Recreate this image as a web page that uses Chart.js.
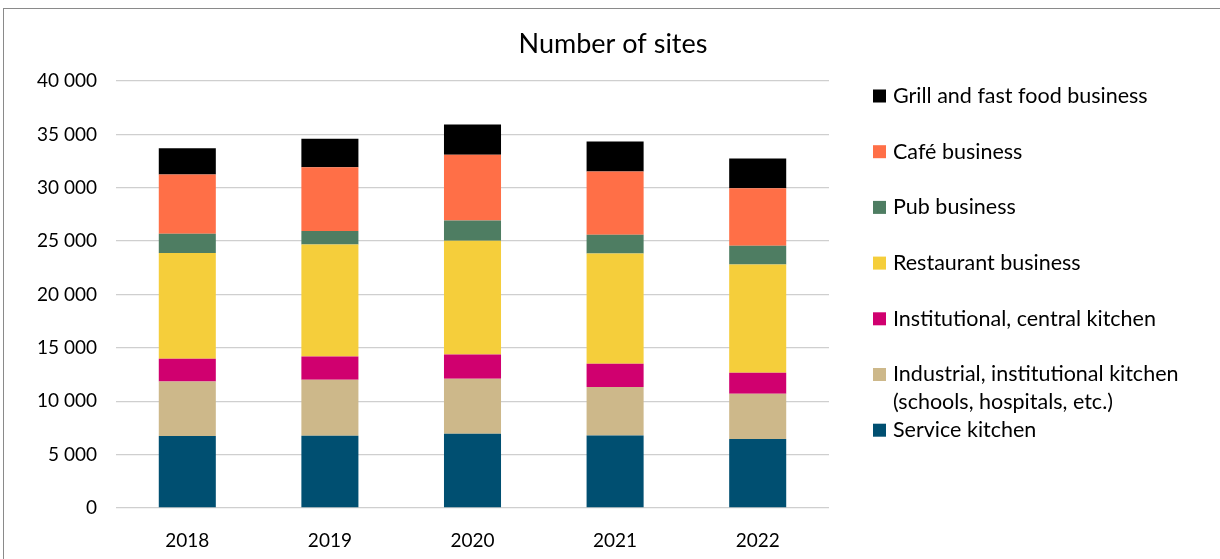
<!DOCTYPE html>
<html>
<head>
<meta charset="utf-8">
<title>Number of sites</title>
<script src="https://cdn.jsdelivr.net/npm/chart.js@4.4.1/dist/chart.umd.min.js"></script>
<style>
  html, body { margin: 0; padding: 0; background: #fff; overflow: hidden; }
  #frame {
    position: absolute; left: 3px; top: 8px;
    width: 1300px; height: 700px;
    border: 1.5px solid #8a8a8a;
  }
  #wrap { position: absolute; left: 0; top: 0; width: 1220px; height: 559px; }
</style>
</head>
<body>
<div id="frame"></div>
<div id="wrap"><canvas id="sitesChart"></canvas></div>
<script>
// Years on the x axis
const years = ['2018', '2019', '2020', '2021', '2022'];

// Number of sites per kitchen type, stacked bottom to top
const serviceKitchen      = [6740, 6770, 6960, 6800, 6460];
const industrialKitchen   = [5110, 5240, 5150, 4530, 4240];
const institutionalCentral = [2130, 2190, 2270, 2180, 1970];
const restaurantBusiness  = [9900, 10480, 10650, 10330, 10140];
const pubBusiness         = [1800, 1280, 1900, 1750, 1750];
const cafeBusiness        = [5560, 5970, 6150, 5930, 5400];
const grillFastFood       = [2470, 2650, 2840, 2810, 2770];

// Y axis range
const yMin = 0;
const yMax = 40000;
const yStep = 5000;

const chartTitle = 'Number of sites';

const FONT = 'Lato, "Open Sans", sans-serif';

// Title centred over the whole canvas plus a legend on the right, top series first
const sideLegend = {
  id: 'sideLegend',
  afterDraw(chart, args, opts) {
    const ctx = chart.ctx;
    ctx.save();
    ctx.fillStyle = '#000';
    ctx.textBaseline = 'middle';
    ctx.textAlign = 'center';
    ctx.font = opts.titleSize + 'px ' + FONT;
    ctx.fillText(chartTitle, chart.width / 2 + 3, opts.titleY);

    const sets = chart.data.datasets.slice().reverse();
    ctx.font = opts.fontSize + 'px ' + FONT;
    ctx.textAlign = 'left';
    sets.forEach((ds, i) => {
      const y = opts.top + i * opts.rowGap;
      ctx.fillStyle = ds.backgroundColor;
      ctx.fillRect(opts.boxX, y - opts.box / 2, opts.box, opts.box);
      ctx.fillStyle = '#000';
      const lines = Array.isArray(ds.label) ? ds.label : [ds.label];
      lines.forEach((line, j) => {
        ctx.fillText(line, opts.textX, y + j * opts.lineGap);
      });
    });
    ctx.restore();
  }
};

const ctx = document.getElementById('sitesChart').getContext('2d');
const sitesChart = new Chart(ctx, {
  type: 'bar',
  data: {
    labels: years,
    datasets: [
      { label: 'Service kitchen', data: serviceKitchen, backgroundColor: '#004f71' },
      { label: ['Industrial, institutional kitchen', '(schools, hospitals, etc.)'], data: industrialKitchen, backgroundColor: '#cdb88a' },
      { label: 'Institutional, central kitchen', data: institutionalCentral, backgroundColor: '#d0006f' },
      { label: 'Restaurant business', data: restaurantBusiness, backgroundColor: '#f5ce3b' },
      { label: 'Pub business', data: pubBusiness, backgroundColor: '#4e7d62' },
      { label: 'Café business', data: cafeBusiness, backgroundColor: '#ff6f47' },
      { label: 'Grill and fast food business', data: grillFastFood, backgroundColor: '#000000' }
    ]
  },
  options: {
    responsive: true,
    maintainAspectRatio: false,
    animation: false,
    categoryPercentage: 1,
    barPercentage: 0.4,
    layout: {
      padding: { left: 0, right: 391, top: 81, bottom: 0 }
    },
    scales: {
      x: {
        stacked: true,
        grid: { display: false },
        border: { display: false },
        ticks: {
          color: '#000',
          padding: 13,
          font: { family: FONT, size: 19 }
        },
        afterFit(scale) { scale.height = 51; }
      },
      y: {
        stacked: true,
        min: yMin,
        max: yMax,
        grid: { color: '#cfcfcf', lineWidth: 1.3, drawTicks: false },
        border: { display: false },
        ticks: {
          stepSize: yStep,
          color: '#000',
          padding: 19,
          font: { family: FONT, size: 19 },
          callback: function(value) {
            return value.toLocaleString('en-US').replace(/,/g, ' ');
          }
        },
        afterFit(scale) { scale.width = 116; }
      }
    },
    plugins: {
      legend: { display: false },
      tooltip: { enabled: false },
      title: { display: false },
      sideLegend: {
        titleY: 44,
        titleSize: 27,
        top: 96,
        rowGap: 55.7,
        lineGap: 28,
        boxX: 873,
        box: 13,
        textX: 893,
        fontSize: 21.5
      }
    }
  },
  plugins: [sideLegend]
});
</script>
</body>
</html>
